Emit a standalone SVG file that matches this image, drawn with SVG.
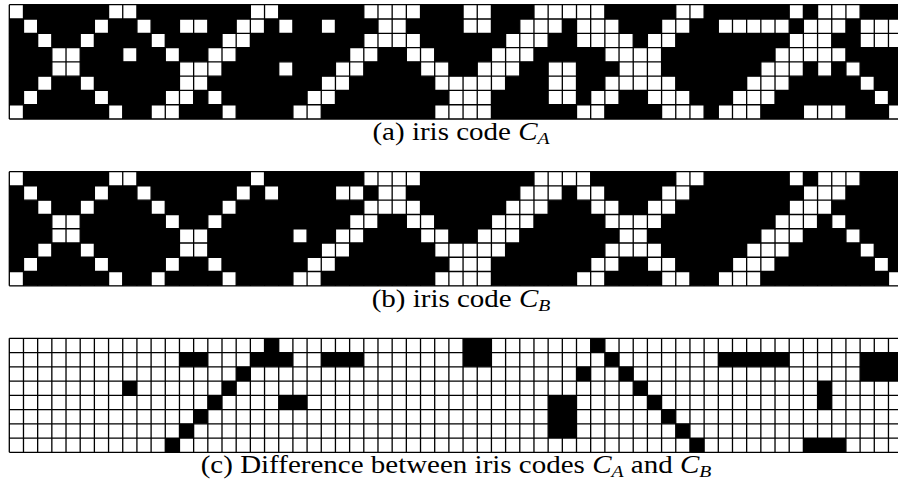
<svg xmlns="http://www.w3.org/2000/svg" xmlns:xlink="http://www.w3.org/1999/xlink" width="898" height="482" viewBox="0 0 898 482">
<style>
.bg{fill:#000}
.wbg{fill:#fff}
.w{fill:#fff}
.k{fill:#000}
.gl{fill:none;stroke:#000;stroke-width:1.3;vector-effect:non-scaling-stroke}
.cap{font-family:"Liberation Serif","Times New Roman",serif;font-size:25px;fill:#000}
.it{font-style:italic}
.sub{font-style:italic;font-size:17px}
</style>
<defs>
<path id="gl" class="gl" d="M0 0V8M1 0V8M2 0V8M3 0V8M4 0V8M5 0V8M6 0V8M7 0V8M8 0V8M9 0V8M10 0V8M11 0V8M12 0V8M13 0V8M14 0V8M15 0V8M16 0V8M17 0V8M18 0V8M19 0V8M20 0V8M21 0V8M22 0V8M23 0V8M24 0V8M25 0V8M26 0V8M27 0V8M28 0V8M29 0V8M30 0V8M31 0V8M32 0V8M33 0V8M34 0V8M35 0V8M36 0V8M37 0V8M38 0V8M39 0V8M40 0V8M41 0V8M42 0V8M43 0V8M44 0V8M45 0V8M46 0V8M47 0V8M48 0V8M49 0V8M50 0V8M51 0V8M52 0V8M53 0V8M54 0V8M55 0V8M56 0V8M57 0V8M58 0V8M59 0V8M60 0V8M61 0V8M62 0V8M63 0V8M0 0H63M0 1H63M0 2H63M0 3H63M0 4H63M0 5H63M0 6H63M0 7H63M0 8H63"/>
</defs>
<rect width="898" height="482" fill="#fff"/>

<g id="grid-a" transform="translate(9.3,4.7) scale(14.18,14.29)">
<rect class="bg" x="0" y="0" width="63" height="8"/>
<path class="w" d="M0 0h1v1h-1zM7 0h2v1h-2zM17 0h2v1h-2zM25 0h4v1h-4zM32 0h2v1h-2zM37 0h5v1h-5zM47 0h2v1h-2zM55 0h1v1h-1zM57 0h3v1h-3z
M1 1h1v1h-1zM6 1h1v1h-1zM9 1h1v1h-1zM12 1h2v1h-2zM16 1h2v1h-2zM19 1h1v1h-1zM22 1h1v1h-1zM26 1h2v1h-2zM32 1h2v1h-2zM36 1h3v1h-3zM40 1h3v1h-3zM46 1h2v1h-2zM50 1h5v1h-5zM56 1h3v1h-3zM60 1h3v1h-3z
M2 2h1v1h-1zM5 2h1v1h-1zM10 2h1v1h-1zM15 2h2v1h-2zM25 2h4v1h-4zM35 2h3v1h-3zM40 2h4v1h-4zM45 2h2v1h-2zM55 2h3v1h-3zM60 2h3v1h-3z
M3 3h2v1h-2zM8 3h1v1h-1zM11 3h1v1h-1zM14 3h2v1h-2zM24 3h2v1h-2zM28 3h2v1h-2zM34 3h3v1h-3zM42 3h4v1h-4zM54 3h5v1h-5z
M3 4h2v1h-2zM12 4h3v1h-3zM19 4h1v1h-1zM23 4h2v1h-2zM29 4h2v1h-2zM33 4h3v1h-3zM38 4h2v1h-2zM43 4h3v1h-3zM53 4h3v1h-3zM57 4h1v1h-1zM59 4h1v1h-1z
M2 5h1v1h-1zM5 5h1v1h-1zM12 5h2v1h-2zM22 5h2v1h-2zM30 5h5v1h-5zM38 5h2v1h-2zM42 5h5v1h-5zM52 5h3v1h-3zM60 5h1v1h-1z
M1 6h1v1h-1zM6 6h1v1h-1zM11 6h2v1h-2zM14 6h1v1h-1zM21 6h2v1h-2zM31 6h3v1h-3zM38 6h2v1h-2zM41 6h2v1h-2zM45 6h3v1h-3zM51 6h3v1h-3zM61 6h1v1h-1z
M0 7h1v1h-1zM7 7h1v1h-1zM10 7h2v1h-2zM15 7h1v1h-1zM20 7h2v1h-2zM30 7h4v1h-4zM40 7h2v1h-2zM46 7h3v1h-3zM50 7h3v1h-3zM56 7h3v1h-3zM62 7h1v1h-1z"/>
<use xlink:href="#gl" href="#gl"/>
</g>

<g id="grid-b" transform="translate(9.3,171.7) scale(14.18,14.26)">
<rect class="bg" x="0" y="0" width="63" height="8"/>
<path class="w" d="M0 0h1v1h-1zM7 0h2v1h-2zM17 0h1v1h-1zM25 0h4v1h-4zM37 0h4v1h-4zM47 0h2v1h-2zM55 0h1v1h-1zM57 0h3v1h-3z
M1 1h1v1h-1zM6 1h1v1h-1zM9 1h1v1h-1zM16 1h1v1h-1zM18 1h1v1h-1zM23 1h2v1h-2zM26 1h2v1h-2zM36 1h3v1h-3zM40 1h2v1h-2zM46 1h2v1h-2zM56 1h3v1h-3z
M2 2h1v1h-1zM5 2h1v1h-1zM10 2h1v1h-1zM15 2h1v1h-1zM25 2h4v1h-4zM35 2h3v1h-3zM41 2h2v1h-2zM45 2h2v1h-2zM55 2h3v1h-3z
M3 3h2v1h-2zM11 3h1v1h-1zM14 3h1v1h-1zM24 3h2v1h-2zM28 3h2v1h-2zM34 3h3v1h-3zM42 3h4v1h-4zM54 3h3v1h-3zM58 3h1v1h-1z
M3 4h2v1h-2zM12 4h2v1h-2zM20 4h1v1h-1zM23 4h2v1h-2zM29 4h2v1h-2zM33 4h3v1h-3zM43 4h2v1h-2zM53 4h3v1h-3zM59 4h1v1h-1z
M2 5h1v1h-1zM5 5h1v1h-1zM12 5h2v1h-2zM22 5h2v1h-2zM30 5h5v1h-5zM42 5h4v1h-4zM52 5h3v1h-3zM60 5h1v1h-1z
M1 6h1v1h-1zM6 6h1v1h-1zM11 6h1v1h-1zM14 6h1v1h-1zM21 6h2v1h-2zM31 6h3v1h-3zM41 6h2v1h-2zM45 6h2v1h-2zM51 6h3v1h-3zM61 6h1v1h-1z
M0 7h1v1h-1zM7 7h1v1h-1zM10 7h1v1h-1zM15 7h1v1h-1zM20 7h2v1h-2zM30 7h4v1h-4zM40 7h2v1h-2zM46 7h2v1h-2zM50 7h3v1h-3zM62 7h1v1h-1z"/>
<use xlink:href="#gl" href="#gl"/>
</g>

<g id="grid-diff" transform="translate(9.3,338.3) scale(14.18,14.25)">
<rect class="wbg" x="0" y="0" width="63" height="8"/>
<path class="k" d="M18 0h1v1h-1zM32 0h2v1h-2zM41 0h1v1h-1z
M12 1h2v1h-2zM17 1h3v1h-3zM22 1h3v1h-3zM32 1h2v1h-2zM42 1h1v1h-1zM50 1h5v1h-5zM60 1h3v1h-3z
M16 2h1v1h-1zM40 2h1v1h-1zM43 2h1v1h-1zM60 2h3v1h-3z
M8 3h1v1h-1zM15 3h1v1h-1zM44 3h1v1h-1zM57 3h1v1h-1z
M14 4h1v1h-1zM19 4h2v1h-2zM38 4h2v1h-2zM45 4h1v1h-1zM57 4h1v1h-1z
M13 5h1v1h-1zM38 5h2v1h-2zM46 5h1v1h-1z
M12 6h1v1h-1zM38 6h2v1h-2zM47 6h1v1h-1z
M11 7h1v1h-1zM48 7h1v1h-1zM56 7h3v1h-3z"/>
<use xlink:href="#gl" href="#gl"/>
</g>

<g id="captions">
<text class="cap" transform="translate(461,140) scale(1.16,1)" text-anchor="middle">(a) iris code <tspan class="it">C</tspan><tspan class="sub" dy="4">A</tspan></text>
<text class="cap" transform="translate(461,307) scale(1.16,1)" text-anchor="middle">(b) iris code <tspan class="it">C</tspan><tspan class="sub" dy="4">B</tspan></text>
<text class="cap" transform="translate(456,473) scale(1.16,1)" text-anchor="middle">(c) Difference between iris codes <tspan class="it">C</tspan><tspan class="sub" dy="4">A</tspan><tspan dy="-4"> and </tspan><tspan class="it">C</tspan><tspan class="sub" dy="4">B</tspan></text>
</g>
</svg>
